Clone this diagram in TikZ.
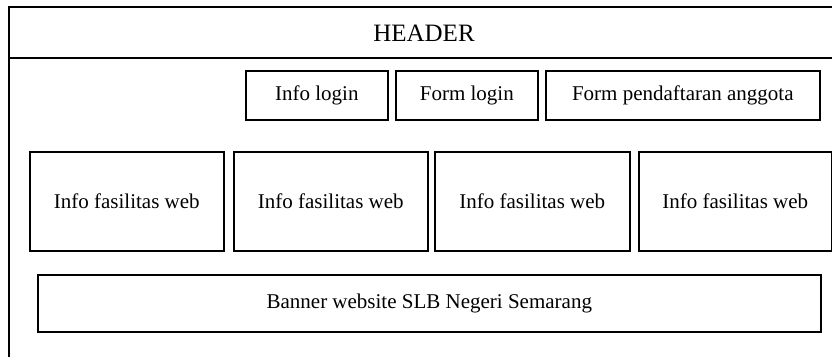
\documentclass[tikz,border=0pt]{standalone}
\usepackage{fontspec}
\setmainfont{Liberation Serif}
\begin{document}
\begin{tikzpicture}[x=1pt,y=-1pt,
  frame/.style={line width=1.6pt,draw=black},
  boxnode/.style={draw=black,line width=1.6pt,inner sep=0pt,anchor=north west,font=\fontsize{21}{25}\selectfont,align=center},
  headtext/.style={font=\fontsize{25}{30}\selectfont,inner sep=0pt}]
\useasboundingbox (0,0) rectangle (832,356);
\begin{scope}
\clip (0,0) rectangle (832,356);
\draw[frame] (9,360) -- (9,7) -- (840,7);
\draw[frame] (8,58) -- (840,58);
\end{scope}
\node[headtext] (header) at (424,33) {HEADER};
% top row
\node[boxnode,minimum width=142pt,minimum height=49pt] (infologin) at (245,70) {Info login};
\node[boxnode,minimum width=142pt,minimum height=49pt] (formlogin) at (395,70) {Form login};
\node[boxnode,minimum width=274pt,minimum height=49pt] (formdaftar) at (545,70) {Form pendaftaran anggota};
% middle row
\node[boxnode,minimum width=194pt,minimum height=99pt] (fas1) at (29,151) {Info fasilitas web};
\node[boxnode,minimum width=194pt,minimum height=99pt] (fas2) at (233,151) {Info fasilitas web};
\node[boxnode,minimum width=195pt,minimum height=99pt] (fas3) at (434,151) {Info fasilitas web};
\node[boxnode,minimum width=193pt,minimum height=99pt] (fas4) at (638,151) {Info fasilitas web};
% banner
\node[boxnode,minimum width=783pt,minimum height=57pt] (banner) at (37,274) {Banner website SLB Negeri Semarang};
\end{tikzpicture}
\end{document}
